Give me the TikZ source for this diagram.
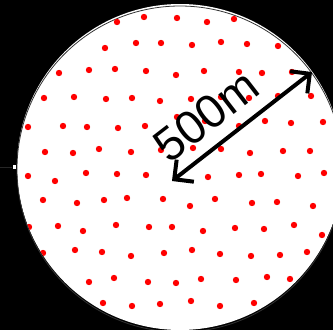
\documentclass[tikz,border=0pt]{standalone}
\usepackage{fontspec}
\setmainfont{Liberation Sans}
\usetikzlibrary{arrows.meta}

\begin{document}
\begin{tikzpicture}[x=1pt,y=-1pt,line width=0.8pt,
  dot/.style={fill=red,draw=none},
  radius arrow/.style={line width=4pt,{Straight Barb[length=14pt,width=28pt]}-{Straight Barb[length=14pt,width=28pt]}}]
  % fondo negro
  \fill[black] (0,0) rectangle (333,330);
  \useasboundingbox (0,0) rectangle (333,330);
  % zona circular
  \coordinate (centre) at (180,167);
  \fill[white] (centre) circle (163);
  \draw[black!80] (180,169) circle (163);
  \fill[white] (13,165) rectangle (16,169);
  \draw[black!85,line width=0.6pt] (0,167) -- (12,167);
  % puntos
  \begin{scope}
    \clip (centre) circle (163);
    \foreach \x/\y in {117/22,144/17,177/18,207/22,234/19,
      105/48,136/43,161/43,192/45,221/42,247/44,278/46,
      59/73,89/70,115/69,146/71,176/75,204/71,239/72,262/73,292/72,
      44/98,74/97,106/99,132/98,160/101,191/99,221/97,249/98,278/96,311/96,
      28/127,63/126,87/127,118/128,145/126,177/117,205/121,239/126,265/121,291/123,323/122,
      45/152,73/153,99/149,131/152,161/150,193/148,221/149,250/153,283/151,310/151,
      28/176,55/181,86/173,117/174,146/175,208/177,239/175,261/174,298/176,324/173,
      43/200,77/203,104/200,127/198,163/199,190/206,215/199,252/203,277/202,313/206,
      29/227,58/226,83/231,116/225,149/227,172/227,203/231,235/228,264/229,294/225,322/235,
      43/253,75/250,102/252,131/256,164/253,192/250,220/254,251/256,280/255,307/252,
      89/282,114/278,148/282,176/283,201/279,236/280,267/277,290/279,
      103/303,132/306,160/304,191/301,220/306,254/303}
      \fill[dot] (\x,\y) circle (3.2);
  \end{scope}
  % radio
  \coordinate (rim) at (312,72);
  \coordinate (tail) at (172,181);
  \draw[radius arrow] (tail) -- (rim);
  \node[rotate=37.7,font=\fontsize{47}{47}\selectfont] (label) at (206,116) {500m};
\end{tikzpicture}
\end{document}
